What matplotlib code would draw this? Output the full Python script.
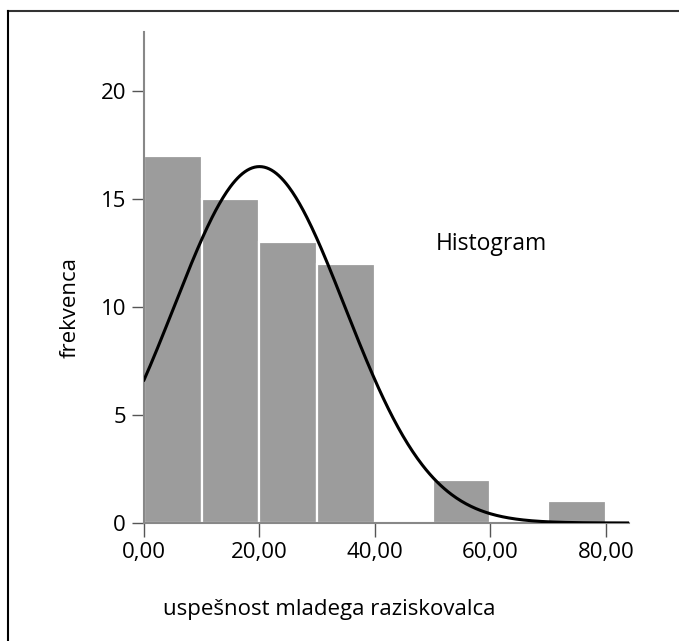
import numpy as np
import matplotlib
matplotlib.use("Agg")
import matplotlib.pyplot as plt
from matplotlib.ticker import FuncFormatter
from matplotlib.lines import Line2D

plt.rcParams['font.family'] = ['Open Sans', 'DejaVu Sans']

# podatki histograma
bin_edges = [0, 10, 20, 30, 40, 50, 60, 70, 80]
counts = [17, 15, 13, 12, 0, 2, 0, 1]

# parametri prilegane normalne krivulje (odčitano s slike)
mean = 20.0
sd = 14.8
peak = 16.5
x_end = 84

xticks = [0, 20, 40, 60, 80]
yticks = [0, 5, 10, 15, 20]

fig = plt.figure(figsize=(6.79, 6.41), dpi=100)
ax = fig.add_axes([144/679, 1-523/641, 485/679, (523-32)/641])

left = bin_edges[:-1]
widths = np.diff(bin_edges)
ax.bar(left, counts, width=widths, align='edge', color='#9c9c9c',
       edgecolor='white', linewidth=1.6, zorder=2)

xs = np.linspace(0, x_end, 400)
ys = peak*np.exp(-0.5*((xs-mean)/sd)**2)
ax.plot(xs, ys, color='black', lw=2.2, zorder=3)

ax.text(50.5, 12.9, 'Histogram', fontsize=16.5, va='center', ha='left')

ax.set_xlim(0, x_end)
ax.set_ylim(0, (523-32)/21.6)
ax.set_xticks(xticks)
ax.set_yticks(yticks)
ax.xaxis.set_major_formatter(FuncFormatter(lambda v, p: f'{v:.2f}'.replace('.', ',')))

for s in ['top', 'right']:
    ax.spines[s].set_visible(False)
for s in ['left', 'bottom']:
    ax.spines[s].set_color('#888888')
    ax.spines[s].set_linewidth(1.5)
ax.tick_params(axis='x', length=10, width=1, color='#555555', labelsize=16, pad=4)
ax.tick_params(axis='y', length=9, width=1, color='#555555', labelsize=16, pad=4)

ax.set_xlabel('uspešnost mladega raziskovalca', fontsize=16)
ax.xaxis.set_label_coords(0.381, -0.155)
ax.set_ylabel('frekvenca', fontsize=16)
ax.yaxis.set_label_coords(-0.130, 0.438)

# okvir
fig.add_artist(Line2D([8/679, 1], [1-11/641, 1-11/641], transform=fig.transFigure,
                      color='#333333', lw=1.5))
fig.add_artist(Line2D([8/679, 8/679], [0, 1-11/641], transform=fig.transFigure,
                      color='black', lw=1.5))

fig.savefig('out.png', dpi=100)
